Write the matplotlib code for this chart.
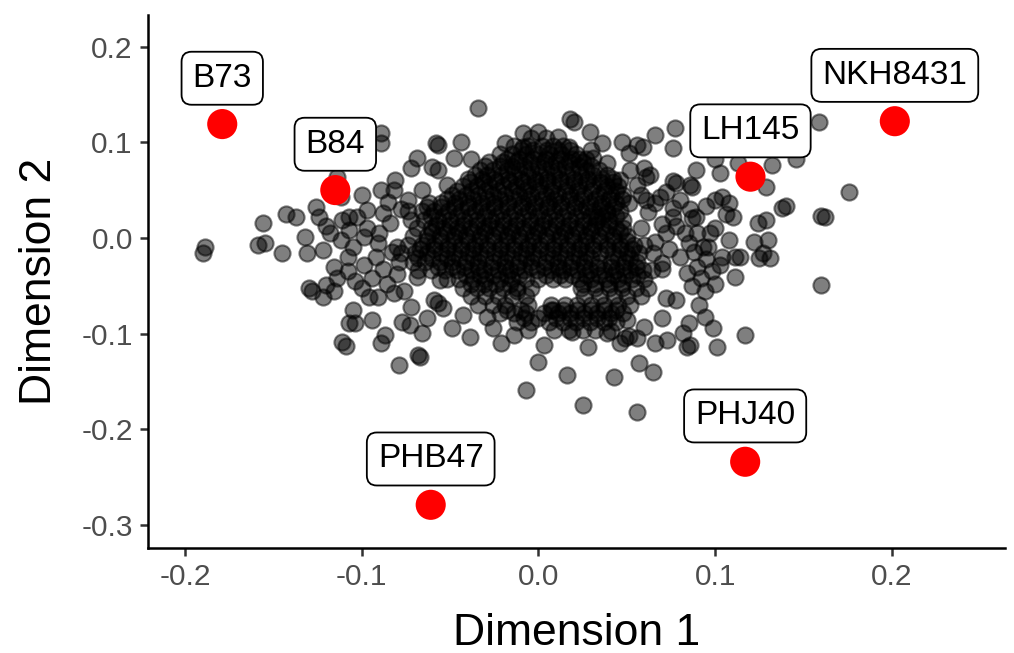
import matplotlib
matplotlib.use("Agg")
import matplotlib.pyplot as plt

plt.rcParams["font.family"] = ["Liberation Sans", "DejaVu Sans"]
plt.rcParams["axes.unicode_minus"] = False

# highlighted lines (red) and their names
hl_names = ["B73", "B84", "LH145", "NKH8431", "PHJ40", "PHB47"]
hl_x = [-0.179, -0.115, 0.120, 0.2017, 0.117, -0.061]
hl_y = [0.119, 0.050, 0.064, 0.122, -0.234, -0.279]

# outer / individually visible points
outer_pts = [
    (-0.156, 0.016), (-0.143, 0.025), (-0.137, 0.022), (-0.126, 0.032), (-0.124, 0.022),
    (-0.132, 0.001), (-0.155, -0.005), (-0.159, -0.007), (-0.145, -0.016), (-0.131, -0.016),
    (-0.189, -0.009), (-0.190, -0.016), (-0.122, -0.013), (-0.111, 0.019), (-0.107, 0.022),
    (-0.112, 0.043), (-0.114, 0.064), (-0.105, -0.009), (-0.108, -0.020),
    (-0.130, -0.052), (-0.128, -0.055), (-0.120, -0.049), (-0.122, -0.062), (-0.116, -0.056),
    (-0.105, -0.075), (-0.107, -0.089), (-0.111, -0.109), (-0.109, -0.113),
    (-0.034, 0.136), (-0.089, 0.110), (-0.089, 0.099), (-0.057, 0.097), (-0.058, 0.099),
    (-0.044, 0.100), (-0.019, 0.099), (-0.009, 0.110), (-0.009, 0.095), (-0.069, 0.084),
    (-0.072, 0.073), (-0.060, 0.074), (-0.057, 0.071), (-0.048, 0.084), (-0.038, 0.082),
    (-0.081, 0.061), (-0.089, 0.050), (-0.100, 0.045), (-0.066, 0.050), (-0.052, 0.055),
    (-0.074, 0.040), (-0.082, 0.050), (-0.103, 0.022), (-0.097, 0.029), (-0.088, 0.026),
    (-0.084, 0.016), (-0.099, 0.001), (-0.091, -0.005), (-0.080, -0.009), (-0.107, 0.008),
    (0.020, 0.121), (0.018, 0.124), (0.029, 0.111), (0.000, 0.111), (0.011, 0.105),
    (0.017, 0.095), (0.047, 0.100), (0.056, 0.097), (0.066, 0.108), (0.077, 0.115),
    (0.076, 0.094), (0.036, 0.099), (0.030, 0.092), (0.023, 0.082), (0.031, 0.084),
    (0.039, 0.078), (0.051, 0.089), (0.059, 0.095), (0.052, 0.071), (0.060, 0.073),
    (0.061, 0.064), (0.063, 0.066), (0.056, 0.055), (0.076, 0.059), (0.078, 0.057),
    (0.086, 0.055), (0.089, 0.071), (0.046, 0.061), (0.061, 0.040), (0.069, 0.043),
    (0.076, 0.031), (0.087, 0.021), (0.076, 0.022), (0.083, 0.005), (0.072, 0.005),
    (0.048, 0.010), (0.039, 0.026), (0.033, 0.022),
    (0.159, 0.121), (0.176, 0.048), (0.162, 0.022), (0.160, 0.023), (0.138, 0.031),
    (0.140, 0.033), (0.129, 0.053), (0.132, 0.076), (0.146, 0.082), (0.113, 0.078),
    (0.103, 0.068), (0.100, 0.082), (0.100, 0.040), (0.108, 0.037), (0.104, 0.043),
    (0.087, 0.053), (0.089, 0.022), (0.110, 0.022), (0.124, 0.016), (0.129, 0.019),
    (0.130, -0.002), (0.122, -0.004), (0.108, -0.002), (0.097, 0.005), (0.093, -0.009),
    (0.114, -0.020), (0.127, -0.016), (0.104, -0.020),
    (-0.079, -0.133), (-0.068, -0.122), (-0.067, -0.125), (-0.087, -0.101), (-0.089, -0.110),
    (-0.094, -0.086), (-0.104, -0.089), (-0.096, -0.062), (-0.076, -0.056), (-0.069, -0.041),
    (-0.072, -0.072), (-0.077, -0.088), (-0.073, -0.091), (-0.066, -0.099), (-0.063, -0.084),
    (-0.049, -0.094), (-0.039, -0.104), (-0.021, -0.110), (-0.014, -0.101), (-0.026, -0.094),
    (-0.029, -0.083), (-0.059, -0.065), (-0.057, -0.068), (-0.054, -0.073), (-0.056, -0.044),
    (-0.043, -0.081), (-0.012, -0.056), (-0.007, -0.159),
    (0.003, -0.112), (0.000, -0.130), (0.016, -0.143), (0.025, -0.175), (0.028, -0.114),
    (0.043, -0.145), (0.056, -0.182), (0.057, -0.131), (0.065, -0.140), (0.039, -0.099),
    (0.041, -0.097), (0.049, -0.105), (0.051, -0.103), (0.046, -0.110), (0.056, -0.105),
    (0.066, -0.110), (0.073, -0.107), (0.084, -0.114), (0.086, -0.112), (0.082, -0.099),
    (0.085, -0.089), (0.078, -0.065), (0.072, -0.063), (0.070, -0.084), (0.060, -0.093),
    (0.050, -0.086), (0.019, -0.098), (0.008, -0.075), (0.034, -0.026), (0.070, -0.033),
    (0.084, -0.037),
    (0.160, -0.049), (0.117, -0.101), (0.101, -0.114), (0.099, -0.094), (0.094, -0.083),
    (0.091, -0.070), (0.111, -0.041), (0.111, -0.020), (0.125, -0.021), (0.131, -0.021),
    # semi-dense fringes
    (0.058, 0.045), (0.066, 0.036), (0.072, 0.048), (0.080, 0.040), (0.062, 0.027),
    (0.070, 0.015), (0.078, 0.012), (0.058, 0.010), (0.066, -0.004), (0.074, -0.012),
    (0.080, -0.020), (0.070, -0.026), (0.085, -0.005),
    (0.088, -0.015), (0.095, -0.022), (0.090, -0.030), (0.098, -0.035), (0.092, -0.042),
    (0.100, -0.048), (0.094, -0.055), (0.087, -0.050), (0.103, -0.028), (0.096, -0.010),
    (0.090, 0.005), (0.100, 0.010), (0.106, 0.025), (0.095, 0.033), (0.086, 0.030),
    (-0.097, 0.010), (-0.090, 0.005), (-0.083, -0.015), (-0.092, -0.020), (-0.099, -0.028),
    (-0.088, -0.032), (-0.080, -0.038), (-0.094, -0.042), (-0.086, -0.048), (-0.100, -0.052),
    (-0.082, -0.058), (-0.091, -0.062), (-0.078, 0.030), (-0.085, 0.038),
    (-0.118, 0.005), (-0.112, -0.002), (-0.116, -0.030), (-0.108, -0.035), (-0.104, -0.045),
    (-0.114, -0.042), (-0.120, 0.012),
]

# dense core, estimated row by row (individual points not separable)
core_pts = [
    (-0.004, 0.104), (0.004, 0.104),
    (-0.014, 0.096), (-0.006, 0.096), (0.002, 0.096), (0.008, 0.096), (0.014, 0.096),
    (-0.022, 0.088), (-0.015, 0.088), (-0.007, 0.088), (0.000, 0.088), (0.006, 0.088),
    (0.013, 0.088), (0.021, 0.088),
    (-0.028, 0.079), (-0.020, 0.079), (-0.013, 0.079), (-0.005, 0.079), (0.003, 0.079),
    (0.010, 0.079), (0.017, 0.079), (0.025, 0.079),
    (-0.033, 0.071), (-0.026, 0.071), (-0.018, 0.071), (-0.011, 0.071), (-0.004, 0.071),
    (0.004, 0.071), (0.011, 0.071), (0.019, 0.071), (0.027, 0.071), (0.034, 0.071),
    (-0.040, 0.062), (-0.032, 0.062), (-0.025, 0.062), (-0.017, 0.062), (-0.010, 0.062),
    (-0.002, 0.062), (0.005, 0.062), (0.012, 0.062), (0.020, 0.062), (0.028, 0.062),
    (0.036, 0.062), (0.042, 0.062),
    (-0.043, 0.054), (-0.035, 0.054), (-0.028, 0.054), (-0.020, 0.054),
    (-0.013, 0.054), (-0.006, 0.054), (0.001, 0.054), (0.008, 0.054), (0.016, 0.054),
    (0.023, 0.054), (0.031, 0.054), (0.039, 0.054), (0.045, 0.054),
    (-0.049, 0.045), (-0.041, 0.045), (-0.034, 0.045),
    (-0.026, 0.045), (-0.019, 0.045), (-0.011, 0.045), (-0.004, 0.045), (0.004, 0.045),
    (0.011, 0.045), (0.018, 0.045), (0.026, 0.045), (0.034, 0.045), (0.041, 0.045),
    (0.048, 0.045),
    (-0.062, 0.037), (-0.055, 0.037), (-0.047, 0.037), (-0.040, 0.037),
    (-0.032, 0.037), (-0.025, 0.037), (-0.017, 0.037), (-0.009, 0.037), (-0.002, 0.037),
    (0.006, 0.037), (0.013, 0.037), (0.021, 0.037), (0.029, 0.037), (0.036, 0.037),
    (0.044, 0.037), (0.051, 0.037),
    (-0.074, 0.028), (-0.066, 0.028), (-0.059, 0.028), (-0.051, 0.028), (-0.044, 0.028),
    (-0.036, 0.028), (-0.029, 0.028), (-0.021, 0.028), (-0.014, 0.028), (-0.006, 0.028),
    (0.001, 0.028), (0.009, 0.028), (0.016, 0.028), (0.024, 0.028), (0.031, 0.028),
    (0.039, 0.028), (0.046, 0.028),
    (-0.072, 0.019), (-0.065, 0.019), (-0.057, 0.019), (-0.050, 0.019), (-0.042, 0.019),
    (-0.035, 0.019), (-0.027, 0.019), (-0.020, 0.019), (-0.012, 0.019), (-0.005, 0.019),
    (0.003, 0.019), (0.010, 0.019), (0.018, 0.019), (0.025, 0.019), (0.033, 0.019),
    (0.040, 0.019), (0.048, 0.019),
    (-0.069, 0.010), (-0.061, 0.010), (-0.054, 0.010), (-0.046, 0.010), (-0.039, 0.010),
    (-0.031, 0.010), (-0.024, 0.010), (-0.016, 0.010), (-0.009, 0.010), (-0.001, 0.010),
    (0.006, 0.010), (0.014, 0.010), (0.021, 0.010), (0.029, 0.010), (0.036, 0.010),
    (0.044, 0.010),
    (-0.071, 0.002), (-0.063, 0.002), (-0.056, 0.002), (-0.048, 0.002), (-0.041, 0.002),
    (-0.033, 0.002), (-0.026, 0.002), (-0.018, 0.002), (-0.011, 0.002), (-0.003, 0.002),
    (0.004, 0.002), (0.012, 0.002), (0.019, 0.002), (0.027, 0.002), (0.034, 0.002),
    (0.042, 0.002), (0.050, 0.002),
    (-0.074, -0.007), (-0.066, -0.007), (-0.059, -0.007), (-0.051, -0.007), (-0.044, -0.007),
    (-0.036, -0.007), (-0.029, -0.007), (-0.021, -0.007), (-0.014, -0.007), (-0.006, -0.007),
    (0.001, -0.007), (0.009, -0.007), (0.016, -0.007), (0.024, -0.007), (0.031, -0.007),
    (0.039, -0.007), (0.046, -0.007), (0.054, -0.007), (0.060, -0.007),
    (-0.078, -0.016), (-0.070, -0.016), (-0.063, -0.016), (-0.055, -0.016), (-0.048, -0.016),
    (-0.040, -0.016), (-0.033, -0.016), (-0.025, -0.016), (-0.018, -0.016), (-0.010, -0.016),
    (-0.003, -0.016), (0.005, -0.016), (0.012, -0.016), (0.020, -0.016), (0.027, -0.016),
    (0.035, -0.016), (0.042, -0.016), (0.050, -0.016), (0.057, -0.016), (0.065, -0.016),
    (-0.079, -0.025), (-0.071, -0.025), (-0.064, -0.025), (-0.056, -0.025), (-0.049, -0.025),
    (-0.041, -0.025), (-0.034, -0.025), (-0.026, -0.025), (-0.019, -0.025), (-0.011, -0.025),
    (-0.004, -0.025), (0.004, -0.025), (0.011, -0.025), (0.019, -0.025), (0.026, -0.025),
    (0.041, -0.025), (0.049, -0.025), (0.056, -0.025),
    (-0.068, -0.034), (-0.061, -0.034), (-0.053, -0.034), (-0.046, -0.034), (-0.038, -0.034),
    (-0.031, -0.034), (-0.023, -0.034), (-0.016, -0.034), (-0.008, -0.034), (-0.001, -0.034),
    (0.007, -0.034), (0.014, -0.034), (0.022, -0.034), (0.029, -0.034), (0.037, -0.034),
    (0.044, -0.034), (0.052, -0.034), (0.059, -0.034), (0.064, -0.034),
    (-0.052, -0.043), (-0.045, -0.043), (-0.037, -0.043), (-0.030, -0.043), (-0.022, -0.043),
    (-0.015, -0.043), (-0.007, -0.043), (0.000, -0.043), (0.008, -0.043), (0.015, -0.043),
    (0.023, -0.043), (0.030, -0.043), (0.038, -0.043), (0.045, -0.043), (0.053, -0.043),
    (0.060, -0.043),
    (-0.043, -0.052), (-0.035, -0.052), (-0.028, -0.052), (-0.020, -0.052), (-0.012, -0.052),
    (-0.004, -0.052), (0.024, -0.052), (0.032, -0.052), (0.040, -0.052), (0.047, -0.052),
    (0.055, -0.052), (0.062, -0.052),
    (-0.038, -0.061), (-0.030, -0.061), (-0.023, -0.061), (-0.015, -0.061), (-0.007, -0.061),
    (0.026, -0.061), (0.035, -0.061), (0.043, -0.061), (0.050, -0.061), (0.058, -0.061),
    (-0.034, -0.070), (-0.026, -0.070), (-0.019, -0.070), (-0.006, -0.070), (0.007, -0.070),
    (0.015, -0.070), (0.022, -0.070), (0.030, -0.070), (0.037, -0.070), (0.045, -0.070),
    (0.052, -0.070),
    (-0.022, -0.079), (-0.014, -0.079), (-0.007, -0.079), (0.003, -0.079), (0.011, -0.079),
    (0.018, -0.079), (0.026, -0.079), (0.033, -0.079), (0.041, -0.079), (0.048, -0.079),
    (-0.012, -0.088), (-0.004, -0.088), (0.006, -0.088), (0.014, -0.088), (0.021, -0.088),
    (0.029, -0.088), (0.037, -0.088), (0.044, -0.088),
    (-0.006, -0.096), (0.009, -0.096), (0.017, -0.096), (0.025, -0.096), (0.032, -0.096),
]

# second, interleaved layer of the core (the black centre holds many overlapping lines)
core_pts_b = [
    (-0.010, 0.092), (-0.003, 0.092), (0.005, 0.092), (0.011, 0.092), (0.018, 0.092),
    (-0.018, 0.083), (-0.011, 0.083), (-0.003, 0.083), (0.004, 0.083), (0.012, 0.083),
    (0.019, 0.083), (0.027, 0.083),
    (-0.030, 0.075), (-0.022, 0.075), (-0.015, 0.075), (-0.008, 0.075), (0.000, 0.075),
    (0.007, 0.075), (0.015, 0.075), (0.023, 0.075), (0.030, 0.075),
    (-0.036, 0.066), (-0.029, 0.066), (-0.021, 0.066), (-0.014, 0.066), (-0.006, 0.066),
    (0.001, 0.066), (0.009, 0.066), (0.016, 0.066), (0.024, 0.066), (0.031, 0.066),
    (0.039, 0.066),
    (-0.039, 0.058), (-0.031, 0.058), (-0.024, 0.058), (-0.016, 0.058),
    (-0.009, 0.058), (-0.002, 0.058), (0.005, 0.058), (0.012, 0.058), (0.020, 0.058),
    (0.027, 0.058), (0.035, 0.058), (0.042, 0.058),
    (-0.046, 0.049), (-0.038, 0.049), (-0.030, 0.049), (-0.023, 0.049),
    (-0.015, 0.049), (-0.008, 0.049), (0.000, 0.049), (0.007, 0.049), (0.015, 0.049),
    (0.022, 0.049), (0.030, 0.049), (0.037, 0.049), (0.044, 0.049),
    (-0.052, 0.041), (-0.045, 0.041), (-0.037, 0.041), (-0.029, 0.041),
    (-0.022, 0.041), (-0.014, 0.041), (-0.006, 0.041), (0.002, 0.041), (0.009, 0.041),
    (0.017, 0.041), (0.024, 0.041), (0.032, 0.041), (0.040, 0.041), (0.047, 0.041),
    (-0.063, 0.032), (-0.055, 0.032), (-0.048, 0.032), (-0.040, 0.032), (-0.033, 0.032),
    (-0.025, 0.032), (-0.018, 0.032), (-0.010, 0.032), (-0.003, 0.032), (0.005, 0.032),
    (0.012, 0.032), (0.020, 0.032), (0.027, 0.032), (0.035, 0.032), (0.042, 0.032),
    (-0.061, 0.023), (-0.054, 0.023), (-0.046, 0.023), (-0.039, 0.023), (-0.031, 0.023),
    (-0.024, 0.023), (-0.016, 0.023), (-0.009, 0.023), (-0.001, 0.023), (0.006, 0.023),
    (0.014, 0.023), (0.021, 0.023), (0.029, 0.023), (0.036, 0.023), (0.044, 0.023),
    (-0.058, 0.014), (-0.050, 0.014), (-0.043, 0.014), (-0.035, 0.014), (-0.028, 0.014),
    (-0.020, 0.014), (-0.013, 0.014), (-0.005, 0.014), (0.002, 0.014), (0.010, 0.014),
    (0.017, 0.014), (0.025, 0.014), (0.032, 0.014), (0.040, 0.014),
    (-0.060, 0.006), (-0.052, 0.006), (-0.045, 0.006), (-0.037, 0.006), (-0.030, 0.006),
    (-0.022, 0.006), (-0.015, 0.006), (-0.007, 0.006), (0.000, 0.006), (0.008, 0.006),
    (0.015, 0.006), (0.023, 0.006), (0.030, 0.006), (0.038, 0.006), (0.046, 0.006),
    (-0.063, -0.003), (-0.055, -0.003), (-0.048, -0.003), (-0.040, -0.003), (-0.033, -0.003),
    (-0.025, -0.003), (-0.018, -0.003), (-0.010, -0.003), (-0.003, -0.003), (0.005, -0.003),
    (0.012, -0.003), (0.020, -0.003), (0.027, -0.003), (0.035, -0.003), (0.043, -0.003),
    (0.050, -0.003),
    (-0.067, -0.012), (-0.059, -0.012), (-0.052, -0.012), (-0.044, -0.012), (-0.037, -0.012),
    (-0.029, -0.012), (-0.022, -0.012), (-0.014, -0.012), (-0.007, -0.012), (0.001, -0.012),
    (0.008, -0.012), (0.016, -0.012), (0.023, -0.012), (0.031, -0.012), (0.039, -0.012),
    (0.046, -0.012), (0.053, -0.012),
    (-0.068, -0.021), (-0.060, -0.021), (-0.052, -0.021), (-0.045, -0.021), (-0.037, -0.021),
    (-0.030, -0.021), (-0.022, -0.021), (-0.015, -0.021), (-0.007, -0.021), (0.000, -0.021),
    (0.008, -0.021), (0.015, -0.021), (0.023, -0.021), (0.030, -0.021), (0.045, -0.021),
    (0.052, -0.021),
    (-0.057, -0.030), (-0.049, -0.030), (-0.042, -0.030), (-0.034, -0.030), (-0.027, -0.030),
    (-0.019, -0.030), (-0.012, -0.030), (-0.004, -0.030), (0.003, -0.030), (0.011, -0.030),
    (0.018, -0.030), (0.026, -0.030), (0.033, -0.030), (0.041, -0.030), (0.048, -0.030),
    (0.055, -0.030),
    (-0.041, -0.039), (-0.033, -0.039), (-0.026, -0.039), (-0.018, -0.039), (-0.011, -0.039),
    (0.004, -0.039), (0.012, -0.039), (0.019, -0.039), (0.027, -0.039), (0.034, -0.039),
    (0.042, -0.039), (0.049, -0.039), (0.056, -0.039),
    (-0.038, -0.048), (-0.031, -0.048), (-0.024, -0.048), (-0.016, -0.048), (0.025, -0.048),
    (0.032, -0.048), (0.040, -0.048), (0.047, -0.048),
    (-0.018, -0.075), (-0.010, -0.075), (0.007, -0.075), (0.014, -0.075), (0.022, -0.075),
    (0.030, -0.075), (0.037, -0.075), (0.044, -0.075),
    (-0.008, -0.084), (0.000, -0.084), (0.010, -0.084), (0.018, -0.084), (0.025, -0.084),
    (0.033, -0.084), (0.040, -0.084),
]

x_ticks = [-0.2, -0.1, 0.0, 0.1, 0.2]
x_tick_labels = ["-0.2", "-0.1", "0.0", "0.1", "0.2"]
y_ticks = [-0.3, -0.2, -0.1, 0.0, 0.1, 0.2]
y_tick_labels = ["-0.3", "-0.2", "-0.1", "0.0", "0.1", "0.2"]

fig = plt.figure(figsize=(10.14, 6.53), dpi=100)
ax = fig.add_axes([0.146, 0.161, 0.845, 0.816])

all_pts = outer_pts + core_pts + core_pts_b
gx = [p[0] for p in all_pts]
gy = [p[1] for p in all_pts]
ax.scatter(gx, gy, s=135, c="black", alpha=0.5, edgecolors="black", linewidths=1.5, zorder=2)

ax.scatter(hl_x, hl_y, s=470, c="red", edgecolors="none", zorder=3)
for name, x, y in zip(hl_names, hl_x, hl_y):
    ax.annotate(name, (x, y), xytext=(0, 33), textcoords="offset points",
                ha="center", va="center", fontsize=24, color="black", zorder=4,
                bbox=dict(boxstyle="round,pad=0.33,rounding_size=0.3", fc="white", ec="black", lw=1.3))

ax.set_xlim(-0.221, 0.264)
ax.set_ylim(-0.324, 0.233)
ax.set_xticks(x_ticks)
ax.set_xticklabels(x_tick_labels)
ax.set_yticks(y_ticks)
ax.set_yticklabels(y_tick_labels)
ax.tick_params(labelsize=21.5, labelcolor="#4D4D4D", color="#333333", length=6, width=1.8, pad=5)
for s in ["top", "right"]:
    ax.spines[s].set_visible(False)
for s in ["left", "bottom"]:
    ax.spines[s].set_linewidth(1.8)
ax.set_xlabel("Dimension 1", fontsize=32, labelpad=16)
ax.set_ylabel("Dimension 2", fontsize=32, labelpad=15)

fig.savefig("out.png", dpi=100, facecolor="white")
